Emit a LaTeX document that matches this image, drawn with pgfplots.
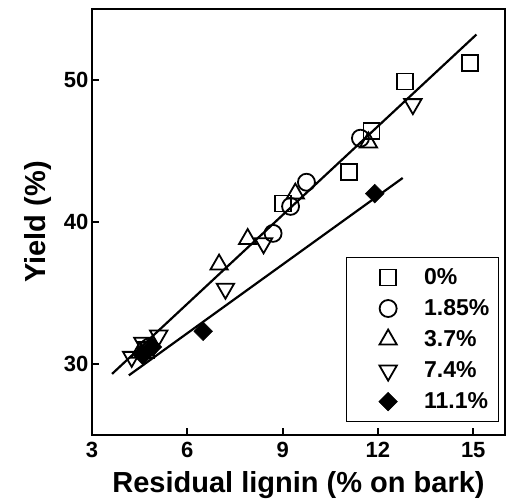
\documentclass[border=0pt]{standalone}
\usepackage{pgfplots}
\pgfplotsset{compat=1.18}
\usepackage{fontspec}
\setmainfont{Liberation Sans}
\begin{document}
\begin{tikzpicture}
\begin{axis}[
  name=ax,
  scale only axis,
  width=413pt, height=426pt,
  xmin=3, xmax=16, ymin=25, ymax=55,
  xtick={3,6,9,12,15}, ytick={30,40,50},
  tick pos=left, tick align=inside,
  major tick length=7pt,
  every tick/.style={line width=2pt, black},
  axis line style={line width=2.8pt},
  /pgf/number format/assume math mode=true,
  ticklabel style={font=\bfseries\fontsize{22}{22}\selectfont},
  xticklabel style={yshift=-4pt},
  xlabel={\bfseries Residual lignin (\% on bark)},
  ylabel={\bfseries Yield (\%)},
  label style={font=\bfseries\fontsize{29}{29}\selectfont},
  xlabel style={yshift=-6pt},
  ylabel style={yshift=6pt},
  legend image code/.code={\path[draw=none] (-25pt,0pt) -- (44pt,0pt); \draw[#1] plot coordinates {(10pt,0pt)};},
  legend style={at={(0.9855,0.0305)}, anchor=south east, draw=black, line width=1.3pt,
    font=\bfseries\fontsize{23}{23}\selectfont, inner xsep=7pt, inner ysep=9pt, row sep=9.5pt,
    nodes={inner ysep=2pt}},
  legend cell align=left,
]
\addplot[only marks, mark=square, mark size=8pt, mark options={line width=1.8pt, black}]
  coordinates {(14.9,51.2) (12.85,49.9) (11.8,46.4) (11.1,43.5) (9.0,41.3) (4.7,31.0)};
\addlegendentry{0\%}
\addplot[only marks, mark=o, mark size=8.5pt, mark options={line width=1.8pt, black}]
  coordinates {(11.45,45.9) (9.75,42.8) (9.25,41.1) (8.7,39.2) (4.8,31.2)};
\addlegendentry{1.85\%}
\addplot[only marks, mark=triangle, mark size=10pt, mark options={line width=1.8pt, black}]
  coordinates {(11.7,45.6) (9.4,42.0) (7.9,38.8) (7.0,37.0) (4.5,30.8)};
\addlegendentry{3.7\%}
\addplot[only marks, mark=triangle, mark size=10pt, mark options={line width=1.8pt, black, rotate=180}]
  coordinates {(13.1,48.3) (8.4,38.5) (7.2,35.3) (5.1,32.0) (4.6,31.5) (4.25,30.5)};
\addlegendentry{7.4\%}
\addplot[only marks, mark=square*, mark size=6.6pt, mark options={line width=0.5pt, black, fill=black, rotate=45}]
  coordinates {(11.9,42.0) (6.5,32.3) (4.9,31.2) (4.6,30.6)};
\addlegendentry{11.1\%}
\addplot[black, line width=2.2pt, forget plot] coordinates {(3.63,29.3) (15.1,53.2)};
\addplot[black, line width=2.2pt, forget plot] coordinates {(4.16,29.2) (12.78,43.1)};
\end{axis}
\path (ax.south west) ++(-92pt,-67pt) rectangle ++(510pt,502pt);
\end{tikzpicture}
\end{document}
